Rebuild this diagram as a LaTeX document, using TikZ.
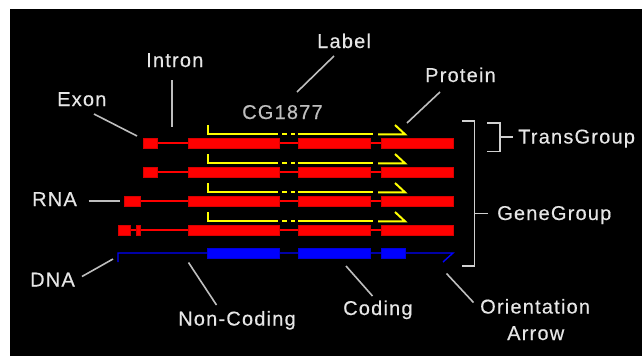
\documentclass[tikz,border=0pt]{standalone}
\usepackage{fontspec}
\setmainfont{Liberation Sans}
\newfontfamily\lblfont[LetterSpace=6,FakeBold=0.4]{Liberation Sans}
\definecolor{txt}{HTML}{E6E6E6}
\definecolor{lead}{HTML}{BEBEBE}
\definecolor{brk}{HTML}{D0D0D0}
\definecolor{ylw}{HTML}{FFFF00}
\begin{document}
\begin{tikzpicture}[x=1pt,y=-1pt,
  lbl/.style={text=txt,font=\lblfont\fontsize{20}{27}\selectfont,inner sep=0pt,anchor=base west},
  leader/.style={draw=lead,line width=1.6pt},
  brace/.style={draw=brk,line width=1.6pt},
  exon/.style={fill=red,draw=red!85!black,line width=0.4pt},
  cds/.style={fill=blue,draw=blue!85!black,line width=0.4pt},
  rnaline/.style={draw=red,line width=1.4pt},
  dnaline/.style={draw=blue,line width=1.4pt},
  prot/.style={draw=ylw,line width=2pt}]
\useasboundingbox (0,0) rectangle (642,356);
\fill[white] (0,0) rectangle (642,356);
\fill[black] (10,9) rectangle (642,356);

% RNA rows
\foreach \c in {143,172,201,230}{
  \draw[rnaline] (188,\c) -- (453,\c);
  \draw[exon] (188,\c-4.8) rectangle (279,\c+4.8);
  \draw[exon] (298,\c-4.8) rectangle (370,\c+4.8);
  \draw[exon] (381,\c-4.8) rectangle (453,\c+4.8);
  % protein
  \draw[prot] (207.5,\c-18) -- (207.5,\c-8.7) -- (278,\c-8.7);
  \draw[prot] (282,\c-8.7) -- (287,\c-8.7);
  \draw[prot] (291,\c-8.7) -- (295,\c-8.7);
  \draw[prot] (298,\c-8.7) -- (373,\c-8.7);
  \draw[prot] (395,\c-18) -- (405,\c-8.7) -- (378,\c-8.7);
}
\foreach \c in {143,172}{
  \draw[rnaline] (157,\c) -- (188,\c);
  \draw[exon] (143,\c-4.8) rectangle (157,\c+4.8);
}
\draw[rnaline] (140,201) -- (188,201);
\draw[exon] (124,201-4.8) rectangle (140,201+4.8);
\draw[rnaline] (130,230) -- (188,230);
\draw[exon] (118,230-4.8) rectangle (130,230+4.8);
\draw[exon] (135.8,230-4.8) rectangle (140.2,230+4.8);

% DNA
\draw[dnaline] (118,262) -- (118,253) -- (453,253) -- (443,262);
\draw[cds] (207,248) rectangle (279,258);
\draw[cds] (298,248) rectangle (370,258);
\draw[cds] (381,248) rectangle (405,258);

% brackets
\draw[brace] (462,121) -- (474.5,121) -- (474.5,266) -- (462,266);
\draw[brace] (474.5,213.5) -- (488,213.5);
\draw[brace] (487,123) -- (500,123) -- (500,151.5) -- (487,151.5);
\draw[brace] (500,137) -- (513,137);

% labels
\node[lbl] (label) at (317,48) {Label};
\node[lbl] (intron) at (146,67) {Intron};
\node[lbl] (exonl) at (57,106) {Exon};
\node[lbl,text=lead] (cg) at (242,119) {CG1877};
\node[lbl] (protein) at (425,82) {Protein};
\node[lbl] (trans) at (518,143.5) {TransGroup};
\node[lbl] (gene) at (497,220) {GeneGroup};
\node[lbl] (rna) at (32,206) {RNA};
\node[lbl] (dna) at (30,286.5) {DNA};
\node[lbl] (nonc) at (178,325.5) {Non-Coding};
\node[lbl] (coding) at (343,315) {Coding};
\node[lbl] (orient) at (480,313.5) {Orientation};
\node[lbl] (arrow) at (507,340) {Arrow};

% leader lines
\coordinate (pLabel) at (297,92);
\coordinate (pIntron) at (172,126.5);
\coordinate (pExon) at (137,136);
\coordinate (pProt) at (407,123);
\coordinate (pRNA) at (119.5,200.7);
\coordinate (pDNA) at (113,259);
\coordinate (pNon) at (188.5,262.5);
\coordinate (pCod) at (346,266);
\coordinate (pOri) at (446.5,273.5);
\draw[leader] (334,56) -- (pLabel);
\draw[leader] (172,80) -- (pIntron);
\draw[leader] (94,114) -- (pExon);
\draw[leader] (440,92) -- (pProt);
\draw[leader] (88.5,200.7) -- (pRNA);
\draw[leader] (82,276.5) -- (pDNA);
\draw[leader] (216.5,305) -- (pNon);
\draw[leader] (372.5,296) -- (pCod);
\draw[leader] (473.5,302.5) -- (pOri);
\end{tikzpicture}
\end{document}
